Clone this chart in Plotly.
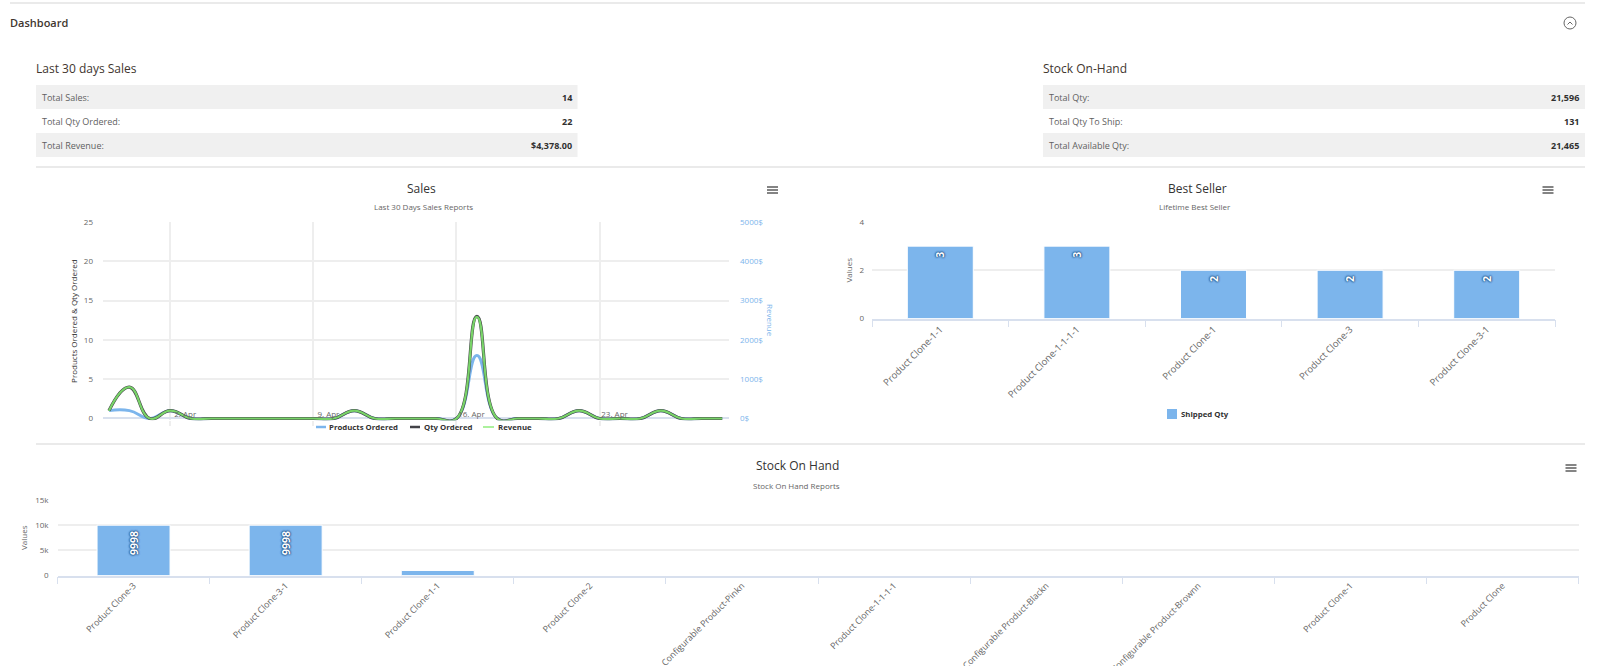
import plotly.graph_objects as go

WIDTH, HEIGHT = 1600, 666
FONT = "Open Sans"
GREY = "#666666"
GRID = "#eeeeee"
AXIS = "#d8e0ee"
BLUE = "#7cb5ec"
DARK = "#434348"
GREEN = "#90ed7d"
LINE_GREEN = "#78d368"

# Sales chart, one entry per day
sales_dates = ["2018-03-30", "2018-03-31", "2018-04-01", "2018-04-02", "2018-04-03", "2018-04-04",
               "2018-04-05", "2018-04-06", "2018-04-07", "2018-04-08", "2018-04-09", "2018-04-10",
               "2018-04-11", "2018-04-12", "2018-04-13", "2018-04-14", "2018-04-15", "2018-04-16",
               "2018-04-17", "2018-04-18", "2018-04-19", "2018-04-20", "2018-04-21", "2018-04-22",
               "2018-04-23", "2018-04-24", "2018-04-25", "2018-04-26", "2018-04-27", "2018-04-28",
               "2018-04-29"]
products_ordered = [1, 1, 0, 1, 0, 0, 0, 0, 0, 0, 0, 0, 1, 0, 0, 0, 0, 0, 8, 0, 0, 0, 0, 1, 0, 0, 0, 1, 0, 0, 0]
qty_ordered = [1, 4, 0, 1, 0, 0, 0, 0, 0, 0, 0, 0, 1, 0, 0, 0, 0, 0, 13, 0, 0, 0, 0, 1, 0, 0, 0, 1, 0, 0, 0]
revenue = [199, 796, 0, 199, 0, 0, 0, 0, 0, 0, 0, 0, 199, 0, 0, 0, 0, 0, 2587, 0, 0, 0, 0, 199, 0, 0, 0, 199, 0, 0, 0]
sales_ticks = ["2018-04-02", "2018-04-09", "2018-04-16", "2018-04-23"]
sales_tick_labels = ["2. Apr", "9. Apr", "16. Apr", "23. Apr"]
revenue_ticks = [0, 1000, 2000, 3000, 4000, 5000]
revenue_tick_labels = ["0$", "1000$", "2000$", "3000$", "4000$", "5000$"]

# Best seller chart
seller_names = ["Product Clone-1-1", "Product Clone-1-1-1-1", "Product Clone-1", "Product Clone-3", "Product Clone-3-1"]
seller_qty = [3, 3, 2, 2, 2]

# Stock chart
stock_names = ["Product Clone-3", "Product Clone-3-1", "Product Clone-1-1", "Product Clone-2",
               "Configurable Product-Pinkn", "Product Clone-1-1-1-1", "Configurable Product-Blackn",
               "Configurable Product-Brownn", "Product Clone-1", "Product Clone"]
stock_qty = [9998, 9998, 998, 20, 20, 20, 20, 20, 20, 2]
stock_labels = ["9998", "9998", "", "", "", "", "", "", "", ""]

# Summary tables
sales_rows = ["Total Sales:", "Total Qty Ordered:", "Total Revenue:"]
sales_row_values = ["14", "22", "$4,378.00"]
stock_rows = ["Total Qty:", "Total Qty To Ship:", "Total Available Qty:"]
stock_row_values = ["21,596", "131", "21,465"]


def fx(px):
    return px / WIDTH


def fy(px):
    return 1 - px / HEIGHT


def hline(x0, x1, y, color, width):
    return dict(type="line", xref="paper", yref="paper", x0=fx(x0), x1=fx(x1), y0=fy(y), y1=fy(y),
                line=dict(color=color, width=width))


def label(x, y, text, size=9, color=GREY, anchor="left", weight="normal", angle=0):
    # Annotation boxes carry a little padding, so edge-anchored text is nudged back
    nudge = {"left": -2, "right": 2, "center": 0}[anchor]
    return dict(xref="paper", yref="paper", x=fx(x + nudge), y=fy(y), text=text,
                showarrow=False, xanchor=anchor, yanchor="middle", textangle=angle,
                font=dict(family=FONT, size=size, color=color, weight=weight))


def menu_icon(cx, cy):
    return [hline(cx - 5.5, cx + 5.5, cy + d, "#666666", 1.6) for d in (-3, 0, 3)]


shapes, notes = [], []

# Page header and section dividers
shapes.append(hline(10, 1585, 3, "#e3e3e3", 1.5))
shapes.append(hline(36, 1585, 167, "#e3e3e3", 1.5))
shapes.append(hline(36, 1585, 444, "#e3e3e3", 1.5))
notes.append(label(10, 22, "Dashboard", size=11, color="#41362f", weight=600))
shapes.append(dict(type="circle", xref="paper", yref="paper", x0=fx(1564), x1=fx(1576), y0=fy(29), y1=fy(17),
                   line=dict(color="#666666", width=1)))
shapes.append(dict(type="path", xref="paper", yref="paper", line=dict(color="#666666", width=1),
                   path=f"M {fx(1567.5)} {fy(24.5)} L {fx(1570)} {fy(22)} L {fx(1572.5)} {fy(24.5)}"))


def summary(x0, x1, title, rows, values):
    notes.append(label(x0, 68, title, size=12, color="#41362f"))
    for i, (row, value) in enumerate(zip(rows, values)):
        top = 85 + i * 24
        if i % 2 == 0:
            shapes.append(dict(type="rect", xref="paper", yref="paper", x0=fx(x0), x1=fx(x1), y0=fy(top + 24),
                               y1=fy(top), fillcolor="#f0f0f0", line=dict(width=0), layer="below"))
        notes.append(label(x0 + 6, top + 12, row, size=9, color="#5f5f5f"))
        notes.append(label(x1 - 6, top + 12, value, size=9, color="#303030", anchor="right", weight="bold"))


summary(36, 577.5, "Last 30 days Sales", sales_rows, sales_row_values)
summary(1043, 1585, "Stock On-Hand", stock_rows, stock_row_values)

# Chart headings
notes += [label(421.5, 188, "Sales", size=12, color="#333333", anchor="center"),
          label(423, 207, "Last 30 Days Sales Reports", size=8, color=GREY, anchor="center"),
          label(1197, 188, "Best Seller", size=12, color="#333333", anchor="center"),
          label(1195, 207, "Lifetime Best Seller", size=8, color=GREY, anchor="center"),
          label(797, 465, "Stock On Hand", size=12, color="#333333", anchor="center"),
          label(796, 485, "Stock On Hand Reports", size=8, color=GREY, anchor="center")]
shapes += menu_icon(772.5, 190) + menu_icon(1548, 190) + menu_icon(1571, 468)

# Hand-placed legends, with short swatches
legend_y = 427
for x0, x1, color, width, text, tx in [(316, 326, BLUE, 2.5, "Products Ordered", 329),
                                       (410, 420, DARK, 2.5, "Qty Ordered", 424),
                                       (483, 494, GREEN, 1.5, "Revenue", 498)]:
    shapes.append(hline(x0, x1, legend_y, color, width))
    notes.append(label(tx, legend_y, text, size=7.8, color="#333333", weight="bold"))
shapes.append(dict(type="rect", xref="paper", yref="paper", x0=fx(1167), x1=fx(1177), y0=fy(419), y1=fy(409),
                   fillcolor=BLUE, line=dict(width=0)))
notes.append(label(1181, 414, "Shipped Qty", size=7.8, color="#333333", weight="bold"))
notes.append(label(771, 320, "Revenue", size=8, color=BLUE, anchor="center", angle=90))

fig = go.Figure()

# Sales lines: green sits on top of the dark line with the same values
spline = dict(shape="spline", smoothing=1.3)
fig.add_trace(go.Scatter(x=sales_dates, y=products_ordered, name="Products Ordered", mode="lines",
                         line=dict(color=BLUE, width=3, **spline), xaxis="x", yaxis="y"))
fig.add_trace(go.Scatter(x=sales_dates, y=qty_ordered, name="Qty Ordered", mode="lines",
                         line=dict(color=DARK, width=3.2, **spline), xaxis="x", yaxis="y"))
fig.add_trace(go.Scatter(x=sales_dates, y=revenue, name="Revenue", mode="lines",
                         line=dict(color=LINE_GREEN, width=2.2, **spline), xaxis="x", yaxis="y2"))

halo = "#1d4f85"
data_font = dict(family=FONT, size=10.5, color="white", weight="bold",
                 shadow=f"0 0 2px {halo}, 0 0 2px {halo}, 0 0 2px {halo}")
# A trailing space holds the rotated labels clear of the bar tops
fig.add_trace(go.Bar(x=seller_names, y=seller_qty, name="Shipped Qty", marker=dict(color=BLUE, line=dict(color="white", width=1)),
                     text=[f"{v}\u00a0" for v in seller_qty], textposition="inside", insidetextanchor="end", textangle=-90,
                     textfont=data_font, xaxis="x3", yaxis="y3"))
fig.add_trace(go.Bar(x=stock_names, y=stock_qty, name="Stock Qty", marker=dict(color=BLUE, line=dict(color="white", width=1)),
                     text=[f"{v}\u00a0" if v else "" for v in stock_labels], textposition="inside", insidetextanchor="end", textangle=-90,
                     textfont=data_font, width=0.48, xaxis="x4", yaxis="y4"))

tick_font = dict(family=FONT, size=8, color=GREY)
grid = dict(gridcolor=GRID, gridwidth=1.5, zeroline=False)

fig.update_layout(
    width=WIDTH, height=HEIGHT, autosize=False, showlegend=False,
    margin=dict(l=0, r=0, t=0, b=0, pad=0, autoexpand=False),
    paper_bgcolor="white", plot_bgcolor="white", shapes=shapes, annotations=notes,
    font=dict(family=FONT, color=GREY),
    xaxis=dict(domain=[fx(103), fx(729)], anchor="y", type="date",
               range=["2018-03-29 17:00", "2018-04-29 08:00"],
               tickvals=sales_ticks, ticktext=sales_tick_labels, tickfont=tick_font,
               ticklabelshift=15, ticklabelstandoff=-19, showgrid=True, gridcolor=GRID, gridwidth=1.5,
               ticks="outside", ticklen=5, tickcolor=GRID, tickwidth=1.5, showline=False, zeroline=False),
    # The value axes start just under zero so the lines keep their full width along the baseline
    yaxis=dict(domain=[fy(420.3), fy(222)], anchor="x", range=[-0.23, 25], tickvals=[0, 5, 10, 15, 20, 25],
               tickfont=tick_font, gridcolor=GRID, gridwidth=1.5, zeroline=True, zerolinecolor=AXIS, zerolinewidth=1.5,
               ticklabelstandoff=9,
               title=dict(text="Products Ordered & Qty Ordered", font=dict(family=FONT, size=8, color="#333333"), standoff=5)),
    yaxis2=dict(domain=[fy(420.3), fy(222)], anchor="x", overlaying="y", side="right", range=[-46, 5000],
                tickvals=revenue_ticks, ticktext=revenue_tick_labels,
                tickfont=dict(family=FONT, size=8, color=BLUE), showgrid=False, zeroline=False, ticklabelstandoff=10),
    xaxis3=dict(domain=[fx(872), fx(1555)], anchor="y3", type="category", tickangle=-45,
                tickfont=dict(family=FONT, size=9.5, color=GREY),
                tickson="boundaries", ticks="outside", ticklen=7, tickcolor=AXIS, showline=True, linecolor=AXIS,
                linewidth=1.5, showgrid=False, automargin=False),
    yaxis3=dict(domain=[fy(318.5), fy(222)], anchor="x3", range=[0, 4], tickvals=[0, 2, 4], tickfont=tick_font,
                ticklabelstandoff=7, title=dict(text="Values", font=tick_font, standoff=5), **grid),
    xaxis4=dict(domain=[fx(57.5), fx(1578.5)], anchor="y4", type="category", tickangle=-45,
                tickfont=dict(family=FONT, size=8.8, color=GREY),
                tickson="boundaries", ticks="outside", ticklen=7, tickcolor=AXIS, showline=True, linecolor=AXIS,
                linewidth=1.5, showgrid=False, automargin=False),
    yaxis4=dict(domain=[fy(575.5), fy(500)], anchor="x4", range=[0, 15000], tickvals=[0, 5000, 10000, 15000],
                ticktext=["0", "5k", "10k", "15k"], tickfont=tick_font,
                ticklabelstandoff=8, title=dict(text="Values", font=tick_font, standoff=6), **grid),
    bargap=0.517,
)

fig.write_html("out.html")
